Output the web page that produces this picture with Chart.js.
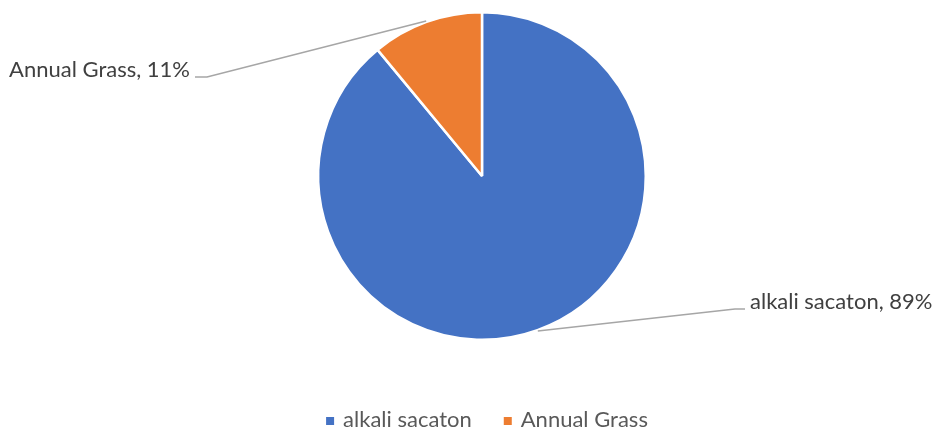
<!DOCTYPE html>
<html>
<head>
<meta charset="utf-8">
<script src="https://cdn.jsdelivr.net/npm/chart.js@4.4.1/dist/chart.umd.min.js"></script>
<style>
  html, body { margin: 0; padding: 0; background: #fff; overflow: hidden; }
</style>
</head>
<body>
<canvas id="pie" width="937" height="430"></canvas>
<script>
// vegetation cover shares
const categories = ['alkali sacaton', 'Annual Grass'];
const shares = [89, 11];
const colours = ['#4472C4', '#ED7D31'];

// where each callout's leader line ends (x) and the label baseline (y)
const callouts = [
  { x: 745, y: 309, side: 'right' },
  { x: 195, y: 77, side: 'left' }
];

const textFont = '22px Lato';
const textColour = '#404040';
const leaderColour = '#A6A6A6';

// leader lines + "name, pct%" labels, and a small square legend at the bottom
const calloutPlugin = {
  id: 'callouts',
  afterDatasetsDraw(chart) {
    const ctx = chart.ctx;
    const meta = chart.getDatasetMeta(0);
    const total = shares.reduce((a, b) => a + b, 0);
    ctx.save();
    ctx.font = textFont;
    meta.data.forEach((arc, i) => {
      const p = arc.getProps(['x', 'y', 'startAngle', 'endAngle', 'outerRadius'], true);
      const mid = (p.startAngle + p.endAngle) / 2;
      const sx = p.x + Math.cos(mid) * (p.outerRadius + 1);
      const sy = p.y + Math.sin(mid) * (p.outerRadius + 1);
      const c = callouts[i];
      const elbowX = c.side === 'right' ? c.x - 10 : c.x + 12;

      ctx.strokeStyle = leaderColour;
      ctx.lineWidth = 1.5;
      ctx.beginPath();
      ctx.moveTo(sx, sy);
      ctx.lineTo(elbowX, c.y);
      ctx.lineTo(c.x, c.y);
      ctx.stroke();

      const label = categories[i] + ', ' + Math.round(shares[i] / total * 100) + '%';
      ctx.fillStyle = textColour;
      ctx.textBaseline = 'alphabetic';
      if (c.side === 'right') {
        ctx.textAlign = 'left';
        ctx.fillText(label, c.x + 5, c.y);
      } else {
        ctx.textAlign = 'right';
        ctx.fillText(label, c.x - 5, c.y);
      }
    });

    // legend
    const box = 8, gap = 9, itemGap = 32;
    const widths = categories.map(t => ctx.measureText(t).width);
    const full = widths.reduce((s, w) => s + box + gap + w, 0) + itemGap * (categories.length - 1);
    let lx = 487 - full / 2;
    const ly = 427;
    ctx.textAlign = 'left';
    categories.forEach((t, i) => {
      ctx.fillStyle = colours[i];
      ctx.fillRect(lx, ly - 10, box, box);
      lx += box + gap;
      ctx.fillStyle = '#595959';
      ctx.fillText(t, lx, ly);
      lx += widths[i] + itemGap;
    });
    ctx.restore();
  }
};

new Chart(document.getElementById('pie'), {
  type: 'pie',
  data: {
    labels: categories,
    datasets: [{
      data: shares,
      backgroundColor: colours,
      borderColor: '#ffffff',
      borderWidth: 2.5
    }]
  },
  options: {
    responsive: false,
    animation: false,
    layout: { padding: { top: 11, bottom: 89, left: 317, right: 290 } },
    plugins: {
      legend: { display: false },
      tooltip: { enabled: false }
    }
  },
  plugins: [calloutPlugin]
});
</script>
</body>
</html>
